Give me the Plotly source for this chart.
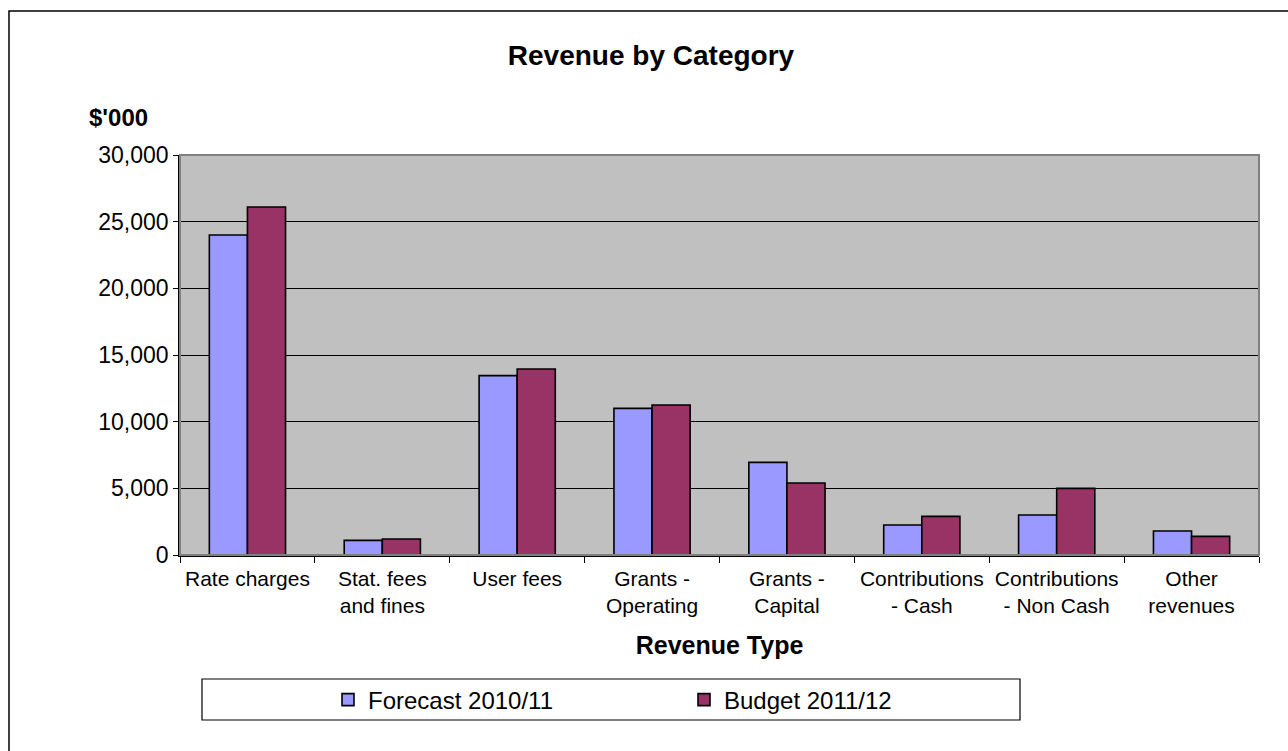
import plotly.graph_objects as go

categories = [
    "Rate charges", "Stat. fees<br>and fines", "User fees", "Grants -<br>Operating",
    "Grants -<br>Capital", "Contributions<br>- Cash", "Contributions<br>- Non Cash",
    "Other<br>revenues",
]
forecast_2010_11 = [24000, 1100, 13450, 11000, 6950, 2250, 3000, 1800]
budget_2011_12 = [26100, 1200, 13950, 11250, 5400, 2900, 5000, 1400]
y_ticks = [0, 5000, 10000, 15000, 20000, 25000, 30000]

W, H = 1288, 751
L, R, T, B = 180, 29, 155, 196
pw, ph = W - L - R, H - T - B


def px_x(p):
    return (p - L) / pw


def px_y(p):
    return (H - B - p) / ph


FONT = "Liberation Sans, Arial, sans-serif"

fig = go.Figure()
fig.add_trace(go.Bar(
    name="Forecast 2010/11", x=categories, y=forecast_2010_11,
    marker=dict(color="#9999FF", line=dict(color="#000000", width=1.6)),
))
fig.add_trace(go.Bar(
    name="Budget 2011/12", x=categories, y=budget_2011_12,
    marker=dict(color="#993366", line=dict(color="#000000", width=1.6)),
))

fig.update_layout(
    width=W, height=H,
    margin=dict(l=L, r=R, t=T, b=B, autoexpand=False),
    paper_bgcolor="white", plot_bgcolor="#C0C0C0",
    barmode="group", bargap=0.435, bargroupgap=0,
    font=dict(family=FONT, color="black"),
    title=dict(text="<b>Revenue by Category</b>", x=651 / W, y=1 - 55 / H,
               xanchor="center", yanchor="middle",
               font=dict(size=28, family=FONT, color="black")),
    showlegend=True,
    legend=dict(orientation="h", x=px_x(328), y=px_y(700), xanchor="left", yanchor="middle",
                font=dict(size=24, family=FONT), bgcolor="rgba(0,0,0,0)",
                entrywidth=311, entrywidthmode="pixels", itemwidth=30,
                traceorder="normal"),
    xaxis=dict(
        type="category", showgrid=False, showline=True, linecolor="black", linewidth=1.5,
        ticks="outside", ticklen=6, tickcolor="black", tickson="boundaries",
        tickfont=dict(size=21, family=FONT), tickangle=0, ticklabelstandoff=4,
        title=dict(text="<b>Revenue Type</b>", font=dict(size=25, family=FONT), standoff=20),
        fixedrange=True,
    ),
    yaxis=dict(
        range=[0, 30000], tickvals=y_ticks, tickformat=",", showgrid=True,
        gridcolor="#000000", gridwidth=1, showline=True, linecolor="black", linewidth=1.5,
        ticks="outside", ticklen=5, tickcolor="black",
        tickfont=dict(size=23, family=FONT), zeroline=False,
    ),
    shapes=[
        # plot area frame (gray, top/right show against white)
        dict(type="rect", xref="paper", yref="paper", x0=0, x1=1, y0=0, y1=1,
             line=dict(color="#808080", width=2), layer="above"),
        # chart area border
        dict(type="rect", xref="paper", yref="paper", x0=px_x(9), x1=px_x(1300),
             y0=px_y(11), y1=px_y(800), line=dict(color="black", width=1.5)),
        # legend box
        dict(type="rect", xref="paper", yref="paper", x0=px_x(202), x1=px_x(1020),
             y0=px_y(679), y1=px_y(720), line=dict(color="black", width=1.2),
             fillcolor="white", layer="below"),
    ],
    annotations=[
        dict(text="<b>$'000</b>", xref="paper", yref="paper", x=px_x(118), y=px_y(117),
             xanchor="center", yanchor="middle", showarrow=False,
             font=dict(size=24, family=FONT, color="black")),
    ],
)

fig.write_html("out.html")
